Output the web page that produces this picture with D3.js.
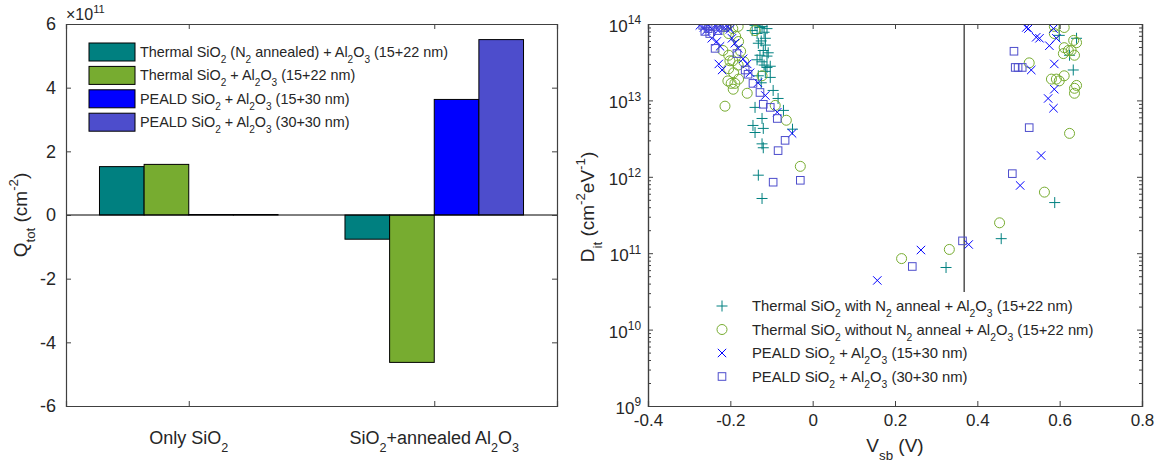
<!DOCTYPE html>
<html>
<head>
<meta charset="utf-8">
<script src="https://cdn.jsdelivr.net/npm/d3@7"></script>
<style>
  body { margin: 0; background: #fff; }
  text { font-family: "Liberation Sans", Arial, Helvetica, sans-serif; fill: #262626; white-space: pre; }
</style>
</head>
<body>
<svg id="chart" width="1166" height="464"></svg>
<script>
// ---- left panel: total charge (units of 1e11 cm^-2)
const categories = ["Only SiO_2", "SiO_2+annealed Al_2O_3"];
const barSeries = [
  "Thermal SiO_2 (N_2 annealed) + Al_2O_3 (15+22 nm)",
  "Thermal SiO_2 + Al_2O_3 (15+22 nm)",
  "PEALD SiO_2 + Al_2O_3 (15+30 nm)",
  "PEALD SiO_2 + Al_2O_3 (30+30 nm)"
];
const qThermalN2 = [1.52, -0.76];
const qThermal = [1.59, -4.63];
const qPeald15 = [0.015, 3.63];
const qPeald30 = [0.015, 5.51];
const barColors = ["#008080", "#77AC30", "#0000FF", "#4D4DCC"];
const qTicks = [-6, -4, -2, 0, 2, 4, 6];

// ---- right panel: Dit vs Vsb
const ditSeries = [
  "Thermal SiO_2 with N_2 anneal + Al_2O_3 (15+22 nm)",
  "Thermal SiO_2 without N_2 anneal + Al_2O_3 (15+22 nm)",
  "PEALD SiO_2 + Al_2O_3 (15+30 nm)",
  "PEALD SiO_2 + Al_2O_3 (30+30 nm)"
];
const ditThermalN2 = [
  [-0.140,9.6e13],[-0.123,9.3e13],[-0.111,8.7e13],[-0.128,9.0e13],[-0.135,7.5e13],[-0.147,8.2e13],
  [-0.118,7.8e13],[-0.115,6.5e13],[-0.125,6.0e13],[-0.132,5.6e13],[-0.115,5.3e13],[-0.120,4.5e13],
  [-0.108,4.2e13],[-0.128,3.9e13],[-0.111,3.8e13],[-0.135,3.4e13],[-0.123,3.2e13],[-0.118,2.9e13],
  [-0.103,2.8e13],[-0.111,2.7e13],[-0.115,2.4e13],[-0.132,2.1e13],[-0.103,2.0e13],[-0.125,1.7e13],
  [-0.096,1.35e13],[-0.084,1.06e13],[-0.071,7.4e12],[-0.049,4.2e12],[-0.140,8.1e12],[-0.123,5.8e12],
  [-0.145,4.7e12],[-0.140,3.8e12],[-0.120,4.3e12],[-0.123,2.7e12],[-0.120,2.4e12],[-0.132,1.05e12],
  [-0.123,5.2e11],
  [0.324,6.5e10],[0.458,1.55e11],[0.588,4.6e11],
  [0.599,7.1e13],[0.641,6.5e13],[0.624,3.9e13],[0.633,2.5e13]
];
const ditThermal = [
  [-0.211,9.3e13],[-0.194,8.7e13],[-0.181,9.3e13],[-0.140,8.2e13],[-0.204,7.5e13],[-0.187,6.9e13],
  [-0.180,5.9e13],[-0.218,4.5e13],[-0.175,4.4e13],[-0.204,3.9e13],[-0.194,3.3e13],[-0.201,3.3e13],
  [-0.167,3.2e13],[-0.181,2.9e13],[-0.204,2.6e13],[-0.192,2.3e13],[-0.123,2.1e13],[-0.180,1.9e13],
  [-0.206,1.8e13],[-0.198,1.67e13],[-0.189,1.67e13],[-0.193,1.4e13],[-0.159,1.24e13],[-0.213,8.4e12],
  [-0.091,8.6e12],[-0.064,5.5e12],[-0.030,1.37e12],
  [0.216,8.5e10],[0.332,1.12e11],[0.454,2.5e11],
  [0.587,9.3e13],[0.611,9.0e13],[0.587,7.5e13],[0.526,3.1e13],[0.611,4.9e13],[0.621,4.5e13],
  [0.609,4.1e13],[0.628,4.5e13],[0.636,3.9e13],[0.641,5.7e13],[0.634,6.1e13],[0.580,1.9e13],
  [0.592,1.9e13],[0.599,1.8e13],[0.611,2.1e13],[0.641,1.57e13],[0.636,1.44e13],[0.636,1.24e13],
  [0.624,3.7e12],[0.563,6.3e11]
];
const ditPeald15 = [
  [-0.274,9.6e13],[-0.264,9.0e13],[-0.254,9.6e13],[-0.245,8.7e13],[-0.235,9.3e13],[-0.225,9.6e13],
  [-0.215,9.0e13],[-0.206,9.3e13],[-0.259,8.2e13],[-0.230,8.2e13],[-0.201,8.5e13],[-0.245,6.5e13],
  [-0.233,5.9e13],[-0.225,5.1e13],[-0.196,6.5e13],[-0.189,5.6e13],[-0.181,4.8e13],[-0.169,3.5e13],
  [-0.159,3.0e13],[-0.228,3.0e13],[-0.220,2.5e13],[-0.152,2.3e13],[-0.133,1.7e13],[-0.115,1.16e13],
  [-0.086,7.0e12],[-0.050,3.7e12],
  [0.157,4.4e10],[0.263,1.1e11],[0.379,1.3e11],
  [0.519,9.0e13],[0.524,8.7e13],[0.543,6.7e13],[0.551,6.5e13],[0.585,8.7e13],[0.592,6.5e13],
  [0.575,5.2e13],[0.587,3.0e13],[0.531,2.5e13],[0.587,1.4e13],[0.572,1.06e13],[0.585,7.9e12],
  [0.555,1.9e12],[0.504,7.7e11]
];
const ditPeald30 = [
  [-0.267,9.6e13],[-0.254,8.7e13],[-0.242,9.3e13],[-0.230,8.2e13],[-0.218,9.0e13],[-0.208,9.6e13],
  [-0.250,7.5e13],[-0.262,8.0e13],[-0.237,4.8e13],[-0.184,4.1e13],[-0.164,2.5e13],[-0.157,2.2e13],
  [-0.145,1.67e13],[-0.128,1.27e13],[-0.120,8.9e12],[-0.103,8.1e12],[-0.086,5.8e12],[-0.067,3.0e12],
  [-0.084,2.2e12],[-0.096,8.5e11],[-0.030,9.0e11],
  [0.242,6.7e10],[0.364,1.45e11],
  [0.489,4.4e13],[0.492,2.7e13],[0.499,2.7e13],[0.509,2.7e13],[0.526,4.4e12],[0.485,1.1e12]
];
const ditColors = ["#008080", "#77AC30", "#0000FF", "#4D4DCC"];
const ditMarkers = ["plus", "circle", "cross", "square"];
const vsbTicks = [-0.4, -0.2, 0, 0.2, 0.4, 0.6, 0.8];
const ditDecades = [9, 10, 11, 12, 13, 14];
const flatBand = { v: 0.368, from: 3.1e10, to: 1e14 };

const axisColor = "#404040";
const tickFontL = 18;
const tickFontR = 17;
const legendFontL = 14.4;
const legendFontR = 14.8;
const labelFont = 19;
const svg = d3.select("#chart");

// text with TeX-like _x, ^{..} sub/superscripts
function tex(sel, str, size) {
  const re = /([_^])(\{([^}]*)\}|(.))/g;
  const parts = [];
  let last = 0, m;
  while ((m = re.exec(str))) {
    if (m.index > last) parts.push([str.slice(last, m.index), 0]);
    parts.push([m[3] !== undefined ? m[3] : m[4], m[1] === "_" ? 1 : -1]);
    last = re.lastIndex;
  }
  if (last < str.length) parts.push([str.slice(last), 0]);
  let cur = 0;
  parts.forEach(([t, s]) => {
    const target = s > 0 ? size * 0.42 : s < 0 ? -size * 0.45 : 0;
    sel.append("tspan")
      .attr("dy", target - cur)
      .attr("font-size", s ? size * 0.7 : size)
      .text(t);
    cur = target;
  });
  return sel;
}

// =================== left panel ===================
const L = { x0: 66, x1: 557, y0: 24, y1: 406 };
const xb = d3.scaleLinear().domain([0.5, 2.5]).range([L.x0, L.x1]);
const yb = d3.scaleLinear().domain([-6, 6]).range([L.y1, L.y0]);
const groupW = 4 / 5.5;
const inner = d3.scaleBand().domain(d3.range(4))
  .range([xb(1 - groupW / 2), xb(1 + groupW / 2)]);
const qSeries = [qThermalN2, qThermal, qPeald15, qPeald30];

const gl = svg.append("g");
qSeries.forEach((vals, j) => {
  gl.selectAll(null).data(vals).enter().append("rect")
    .attr("x", (d, i) => inner(j) + xb(i + 1) - xb(1))
    .attr("width", inner.bandwidth())
    .attr("y", d => yb(Math.max(0, d)))
    .attr("height", d => Math.abs(yb(d) - yb(0)))
    .attr("fill", barColors[j])
    .attr("stroke", "#000")
    .attr("stroke-width", 1);
});
gl.append("line")
  .attr("x1", L.x0).attr("x2", L.x1)
  .attr("y1", yb(0)).attr("y2", yb(0))
  .attr("stroke", "#000").attr("stroke-width", 1);

const yAxisL = gl.append("g").attr("transform", `translate(${L.x0},0)`)
  .call(d3.axisLeft(yb).tickValues(qTicks).tickSize(-5).tickPadding(10).tickFormat(d => String(d)));
yAxisL.selectAll("text").attr("font-size", tickFontL);
gl.append("g").attr("transform", `translate(${L.x1},0)`)
  .call(d3.axisRight(yb).tickValues(qTicks).tickSize(-5).tickFormat(""));
gl.append("g").attr("transform", `translate(0,${L.y1})`)
  .call(d3.axisBottom(xb).tickValues([1, 2]).tickSize(-5).tickFormat(""));
gl.append("g").attr("transform", `translate(0,${L.y0})`)
  .call(d3.axisTop(xb).tickValues([1, 2]).tickSize(-5).tickFormat(""));
categories.forEach((c, i) => {
  tex(gl.append("text").attr("x", xb(i + 1)).attr("y", 444)
    .attr("text-anchor", "middle"), c, tickFontL);
});
tex(gl.append("text").attr("x", L.x0).attr("y", 20), "\u00d710^{11}", 16);
tex(gl.append("text").attr("transform", `translate(27,${(L.y0 + L.y1) / 2}) rotate(-90)`)
  .attr("text-anchor", "middle"), "Q_{tot} (cm^{-2})", labelFont);

// legend
barSeries.forEach((s, j) => {
  const cy = 52 + j * 23.4;
  gl.append("rect").attr("x", 89).attr("y", cy - 9).attr("width", 46).attr("height", 18)
    .attr("fill", barColors[j]).attr("stroke", "#000").attr("stroke-width", 1);
  tex(gl.append("text").attr("x", 140).attr("y", cy + 5), s, legendFontL);
});

// =================== right panel ===================
const R = { x0: 648, x1: 1142, y0: 24, y1: 406 };
const xs = d3.scaleLinear().domain([-0.4, 0.8]).range([R.x0, R.x1]);
const ys = d3.scaleLog().domain([1e9, 1e14]).range([R.y1, R.y0]);
const gr = svg.append("g");

svg.append("defs").append("clipPath").attr("id", "clipR")
  .append("rect").attr("x", R.x0).attr("y", R.y0)
  .attr("width", R.x1 - R.x0).attr("height", R.y1 - R.y0);

gr.append("line")
  .attr("x1", xs(flatBand.v)).attr("x2", xs(flatBand.v))
  .attr("y1", ys(flatBand.from)).attr("y2", ys(flatBand.to))
  .attr("stroke", "#262626").attr("stroke-width", 1.2);

function marker(sel, type, color) {
  if (type === "circle") {
    sel.append("circle").attr("r", 5).attr("fill", "none").attr("stroke", color);
  } else if (type === "square") {
    sel.append("rect").attr("x", -3.8).attr("y", -3.8).attr("width", 7.6).attr("height", 7.6)
      .attr("fill", "none").attr("stroke", color);
  } else if (type === "plus") {
    sel.append("path").attr("d", "M-5.5,0H5.5M0,-5.5V5.5").attr("stroke", color).attr("fill", "none");
  } else {
    sel.append("path").attr("d", "M-4.2,-4.2L4.2,4.2M-4.2,4.2L4.2,-4.2").attr("stroke", color).attr("fill", "none");
  }
}

const pts = gr.append("g").attr("clip-path", "url(#clipR)");
[ditThermalN2, ditThermal, ditPeald15, ditPeald30].forEach((data, j) => {
  pts.append("g").selectAll("g").data(data).enter().append("g")
    .attr("transform", d => `translate(${xs(d[0])},${ys(d[1])})`)
    .each(function () { marker(d3.select(this), ditMarkers[j], ditColors[j]); });
});

// axes
const minor = [];
ditDecades.slice(0, -1).forEach(e => d3.range(2, 10).forEach(k => minor.push(k * Math.pow(10, e))));
const majors = ditDecades.map(e => Math.pow(10, e));
gr.append("g").attr("transform", `translate(${R.x0},0)`)
  .call(d3.axisLeft(ys).tickValues(minor).tickSize(-3).tickFormat(""));
gr.append("g").attr("transform", `translate(${R.x1},0)`)
  .call(d3.axisRight(ys).tickValues(minor).tickSize(-3).tickFormat(""));
gr.append("g").attr("transform", `translate(${R.x0},0)`)
  .call(d3.axisLeft(ys).tickValues(majors).tickSize(-5).tickFormat(""));
gr.append("g").attr("transform", `translate(${R.x1},0)`)
  .call(d3.axisRight(ys).tickValues(majors).tickSize(-5).tickFormat(""));
const xAxisR = gr.append("g").attr("transform", `translate(0,${R.y1})`)
  .call(d3.axisBottom(xs).tickValues(vsbTicks).tickSize(-5).tickPadding(8).tickFormat(d => String(d)));
xAxisR.selectAll("text").attr("font-size", tickFontR);
gr.append("g").attr("transform", `translate(0,${R.y0})`)
  .call(d3.axisTop(xs).tickValues(vsbTicks).tickSize(-5).tickFormat(""));
ditDecades.forEach(e => {
  tex(gr.append("text").attr("x", R.x0 - 7).attr("y", ys(Math.pow(10, e)) + 8)
    .attr("text-anchor", "end"), "10^{" + e + "}", tickFontR);
});
tex(gr.append("text").attr("x", (R.x0 + R.x1) / 2).attr("y", 452).attr("text-anchor", "middle"),
  "V_{sb} (V)", labelFont);
tex(gr.append("text").attr("transform", `translate(594,${(R.y0 + R.y1) / 2 - 8}) rotate(-90)`)
  .attr("text-anchor", "middle"), "D_{it} (cm^{-2}eV^{-1})", labelFont);

// legend
ditSeries.forEach((s, j) => {
  const cy = 306 + j * 23.5;
  marker(gr.append("g").attr("transform", `translate(722,${cy})`), ditMarkers[j], ditColors[j]);
  tex(gr.append("text").attr("x", 752).attr("y", cy + 5), s, legendFontR);
});

// style axes
svg.selectAll(".domain").attr("stroke", axisColor).attr("stroke-width", 1.2);
svg.selectAll(".tick line").attr("stroke", axisColor);
svg.selectAll(".tick text").attr("fill", "#262626")
  .attr("font-family", "Liberation Sans, Arial, sans-serif");
</script>
</body>
</html>
